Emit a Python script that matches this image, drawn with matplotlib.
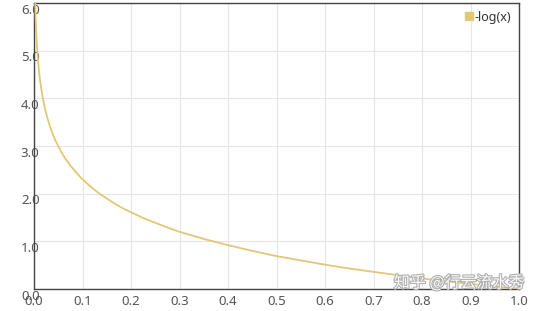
import matplotlib
matplotlib.use("Agg")
import matplotlib.pyplot as plt
import matplotlib.patheffects as pe
from matplotlib.lines import Line2D
from matplotlib.transforms import ScaledTranslation

# points
x_vals = [0.0025, 0.003, 0.0035, 0.004, 0.0045, 0.005, 0.0057, 0.0065, 0.0072, 0.008,
          0.009, 0.01, 0.011, 0.0125, 0.014, 0.015, 0.0175, 0.02, 0.0225, 0.025,
          0.0275, 0.03, 0.035, 0.04, 0.045, 0.05, 0.055, 0.06, 0.065, 0.07, 0.075,
          0.08, 0.09, 0.1, 0.11, 0.12, 0.135, 0.15, 0.165, 0.18, 0.2, 0.225, 0.25,
          0.275, 0.3, 0.35, 0.4, 0.45, 0.5, 0.55, 0.6, 0.65, 0.7, 0.75, 0.8, 0.85,
          0.9, 0.95, 1.0]
y_vals = [5.99, 5.81, 5.65, 5.52, 5.40, 5.30, 5.17, 5.04, 4.93, 4.83,
          4.71, 4.61, 4.51, 4.38, 4.27, 4.20, 4.05, 3.91, 3.79, 3.69,
          3.59, 3.51, 3.35, 3.22, 3.10, 3.00, 2.90, 2.81, 2.73, 2.66, 2.59,
          2.53, 2.41, 2.30, 2.21, 2.12, 2.00, 1.90, 1.80, 1.71, 1.61, 1.49, 1.39,
          1.29, 1.20, 1.05, 0.92, 0.80, 0.69, 0.60, 0.51, 0.43, 0.36, 0.29, 0.22, 0.16,
          0.11, 0.05, 0.00]
x_ticks = [0.0, 0.1, 0.2, 0.3, 0.4, 0.5, 0.6, 0.7, 0.8, 0.9, 1.0]
y_ticks = [0.0, 1.0, 2.0, 3.0, 4.0, 5.0, 6.0]
series_name = "-log(x)"
watermark = "知乎 @行云流水秀"

line_color = "#e2c776"

plt.rcParams["font.family"] = ["Noto Sans", "Noto Sans CJK SC", "DejaVu Sans"]

fig = plt.figure(figsize=(5.38, 3.11), dpi=100)
ax = fig.add_axes([34 / 538, 1 - 289 / 311, 485 / 538, 286 / 311])

ax.plot(x_vals, y_vals, color=line_color, lw=1.3, zorder=3)

ax.set_xlim(0, 1)
ax.set_ylim(0, 6)
ax.set_xticks(x_ticks)
ax.set_yticks(y_ticks)
ax.set_xticklabels([f"{v:.1f}" for v in x_ticks])
ax.set_yticklabels([f"{v:.1f}" for v in y_ticks])
ax.grid(True, color="#e6e6e6", lw=0.8)
ax.set_axisbelow(True)

ax.tick_params(axis="both", length=0, labelsize=9.5, labelcolor="#555555")
ax.tick_params(axis="x", pad=4)
ax.tick_params(axis="y", pad=-4)
for lab in ax.get_yticklabels():
    lab.set_transform(lab.get_transform() + ScaledTranslation(0, -4 / 72, fig.dpi_scale_trans))

for side in ["left", "bottom", "right", "top"]:
    ax.spines[side].set_color("#444444")
    ax.spines[side].set_linewidth(1)

handle = Line2D([], [], marker="s", color=line_color, lw=0, markersize=5.5)
leg = ax.legend([handle], [series_name], loc="upper right", frameon=False,
                handlelength=0.6, handletextpad=0.2, borderaxespad=0.2,
                fontsize=9, bbox_to_anchor=(1.0, 1.0))
for t in leg.get_texts():
    t.set_color("#333333")

fig.text(0.975, 0.09, watermark, ha="right", va="center", fontsize=11.5,
         color="#fafafa", family=["Noto Sans CJK SC", "DejaVu Sans"],
         path_effects=[pe.withStroke(linewidth=1.6, foreground="#b0b0b0")])

fig.savefig("out.png", dpi=100)
